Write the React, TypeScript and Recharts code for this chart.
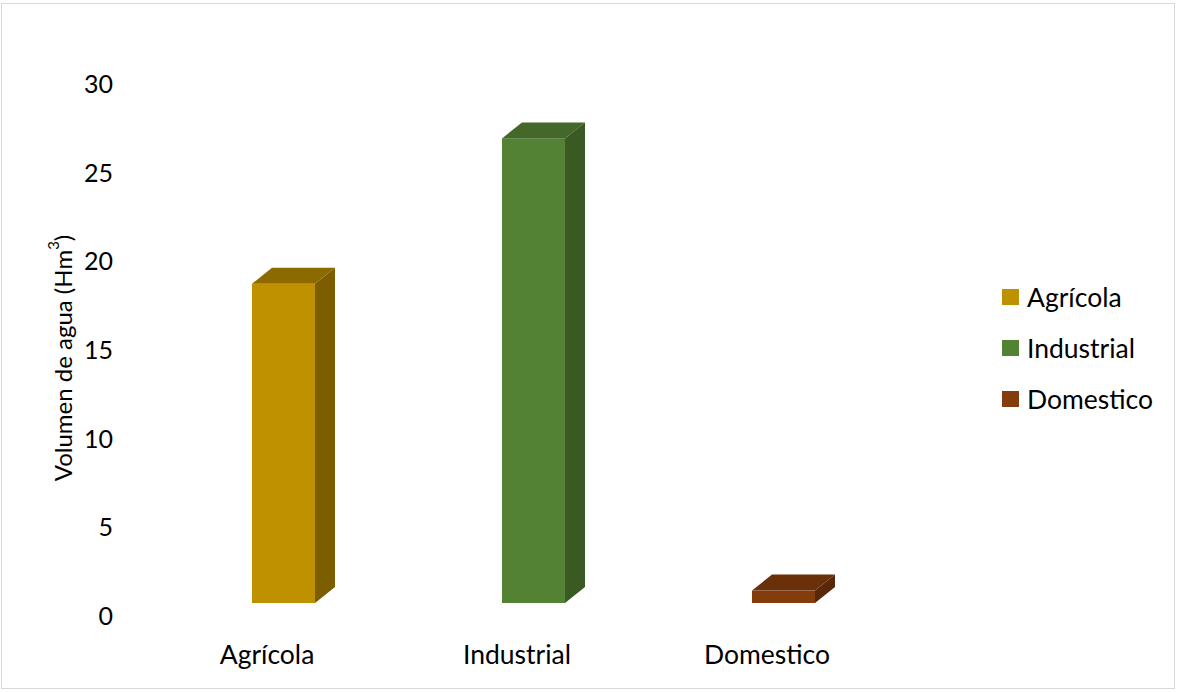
import React from 'react';
import { BarChart, Bar, XAxis, YAxis, Cell } from 'recharts';

const categories = ['Agrícola', 'Industrial', 'Domestico'];
const volumes = [18.0, 26.2, 0.7];
const yTicks = [0, 5, 10, 15, 20, 25, 30];

const FRONT = ['#BF9000', '#548235', '#843C0C'];
const TOP = ['#8C6A00', '#43682A', '#6A300A'];
const SIDE = ['#7C5E00', '#3A5A24', '#5A2808'];

const FONT = 'Lato, "Open Sans", sans-serif';

// 3d look: depth offsets and the lift of the front face above the axis floor
const DX = 20;
const DY = 16;
const LIFT = 13;
const SHIFT = 16;

const data = categories.map((name, i) => ({ name, value: volumes[i], idx: i }));

// eslint-disable-next-line @typescript-eslint/no-explicit-any
function Bar3D(props: any) {
    const { x, y, width, height, payload } = props;
    const i = payload.idx;
    const x0 = x + SHIFT;
    const y0 = y - LIFT;
    const x1 = x0 + width;
    const y1 = y0 + height;
    return (
        <g>
            <rect x={x0} y={y0} width={width} height={height} fill={FRONT[i]} />
            <polygon
                points={`${x0},${y0} ${x0 + DX},${y0 - DY} ${x1 + DX},${y0 - DY} ${x1},${y0}`}
                fill={TOP[i]}
            />
            <polygon
                points={`${x1},${y0} ${x1 + DX},${y0 - DY} ${x1 + DX},${y1 - DY} ${x1},${y1}`}
                fill={SIDE[i]}
            />
        </g>
    );
}

// eslint-disable-next-line @typescript-eslint/no-explicit-any
function YLabel({ viewBox }: any) {
    const cx = viewBox.x + 62;
    const cy = viewBox.y + viewBox.height / 2 + 8;
    return (
        <text
            x={cx}
            y={cy}
            transform={`rotate(-90, ${cx}, ${cy})`}
            textAnchor="middle"
            dominantBaseline="central"
            fontFamily={FONT}
            fontSize={24}
            fill="#000"
        >
            Volumen de agua (Hm<tspan dy={-9} fontSize={15}>3</tspan><tspan dy={9}>)</tspan>
        </text>
    );
}

function LegendBox() {
    return (
        <div
            style={{
                position: 'absolute', left: 1002, top: 271, width: 176,
                fontFamily: FONT, fontSize: 26.5, color: '#000',
            }}
        >
            {categories.map((c, i) => (
                <div key={`leg-${c}`} style={{ display: 'flex', alignItems: 'center', height: 51 }}>
                    <span style={{ width: 17, height: 16, background: FRONT[i], marginRight: 8, display: 'inline-block' }} />
                    <span>{c}</span>
                </div>
            ))}
        </div>
    );
}

export default function App() {
    return (
        <div
            style={{
                position: 'absolute', left: 0, top: 0, width: 1178, height: 692, background: '#fff',
            }}
        >
            <div
                style={{
                    position: 'absolute', left: 1, top: 3, width: 1174, height: 686,
                    border: '1px solid #D9D9D9', boxSizing: 'border-box',
                }}
            />
            <BarChart
                width={1178}
                height={692}
                data={data}
                margin={{ top: 84, right: 286, bottom: 0, left: 0 }}
                barSize={63}
            >
                <XAxis
                    dataKey="name"
                    axisLine={false}
                    tickLine={false}
                    tickSize={0}
                    tickMargin={29}
                    height={76}
                    tick={{ fontFamily: FONT, fontSize: 26.5, fill: '#000' }}
                />
                <YAxis
                    domain={[0, 30]}
                    ticks={yTicks}
                    interval={0}
                    axisLine={false}
                    tickLine={false}
                    tickSize={0}
                    tickMargin={29}
                    width={142}
                    tick={{ fontFamily: FONT, fontSize: 25, fill: '#000' }}
                    label={<YLabel />}
                />
                <Bar dataKey="value" shape={<Bar3D />} isAnimationActive={false}>
                    {data.map(d => (
                        <Cell key={`cell-${d.name}`} fill={FRONT[d.idx]} />
                    ))}
                </Bar>
            </BarChart>
            <LegendBox />
        </div>
    );
}
